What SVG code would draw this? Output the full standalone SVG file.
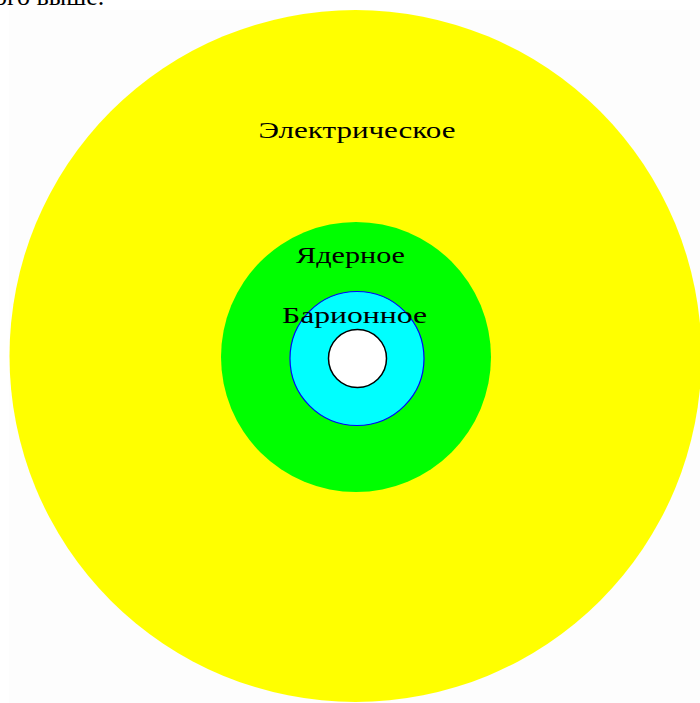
<svg xmlns="http://www.w3.org/2000/svg" width="700" height="703" viewBox="0 0 700 703">
<style>
.lbl{font-family:"Liberation Serif","Times New Roman",serif;font-size:24px;fill:#000;text-anchor:middle}
</style>
<rect x="0" y="0" width="700" height="703" fill="#ffffff"/>
<rect x="9" y="10" width="691" height="693" fill="#fdfdfd"/>
<text x="-6" y="5" style="font-family:'Liberation Serif','Times New Roman',serif;font-size:26px;fill:#000">ого выше.</text>
<g id="electric">
<circle cx="355.5" cy="356" r="346" fill="#ffff00"/>
<text class="lbl" x="357" y="138" textLength="197" lengthAdjust="spacingAndGlyphs">Электрическое</text>
</g>
<g id="nuclear">
<circle cx="356" cy="357" r="135" fill="#00ff00"/>
<text class="lbl" x="350.5" y="263" textLength="109" lengthAdjust="spacingAndGlyphs">Ядерное</text>
</g>
<g id="baryon">
<circle cx="357" cy="358.5" r="67" fill="#00ffff" stroke="#0000ff" stroke-width="1.2"/>
<text class="lbl" x="354.5" y="323" textLength="145" lengthAdjust="spacingAndGlyphs">Барионное</text>
</g>
<g id="core">
<circle cx="357.5" cy="358.5" r="29" fill="#ffffff" stroke="#000000" stroke-width="1.5"/>
</g>
<g id="connectors"></g>
</svg>
